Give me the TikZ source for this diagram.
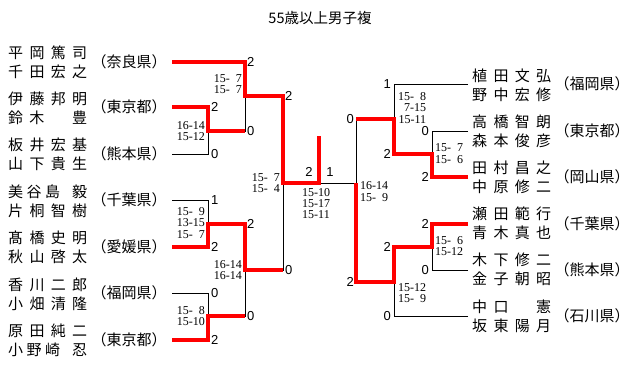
\documentclass[tikz,border=0pt]{standalone}
\usepackage{fontspec}
\usepackage{tikz}
\setmainfont{Liberation Serif}
\newfontfamily\jpfont{Noto Sans CJK JP}
\newfontfamily\scfont{Liberation Sans}
\usetikzlibrary{positioning}
\definecolor{winred}{RGB}{255,0,0}
\newcommand{\nmline}[1]{\makebox[79pt][s]{#1}}
\newcommand{\gp}{\hphantom{0}}

\begin{document}
\begin{tikzpicture}[x=1pt,y=-1pt,
  bline/.style={draw=black,line width=0.9pt},
  wline/.style={draw=winred,line width=3.3pt},
  pname/.style={font=\jpfont\fontsize{15}{19}\selectfont,align=left,inner sep=0pt,anchor=west},
  pref/.style={font=\jpfont\fontsize{15}{17}\selectfont,inner sep=0pt},
  pts/.style={font=\scfont\fontsize{13}{14}\selectfont,inner sep=0pt},
  gsc/.style={font=\fontsize{12}{11.3}\selectfont,align=right,inner sep=0pt}]
\useasboundingbox (0,0) rectangle (640,385);
\node[font=\jpfont\fontsize{14.5}{17}\selectfont] (title) at (320,18) {55歳以上男子複};

\coordinate (tL1) at (172,62);
\coordinate (tL2) at (172,107);
\coordinate (tL3) at (172,154);
\coordinate (tL4) at (172,200);
\coordinate (tL5) at (172,247);
\coordinate (tL6) at (172,293);
\coordinate (tL7) at (172,340);
\coordinate (tR1) at (468,84);
\coordinate (tR2) at (468,131);
\coordinate (tR3) at (468,177);
\coordinate (tR4) at (468,224);
\coordinate (tR5) at (468,270);
\coordinate (tR6) at (468,316);
\coordinate (jL23) at (208,131);
\coordinate (jL45) at (208,224);
\coordinate (jL67) at (208,316);
\coordinate (jLa) at (245,96);
\coordinate (jLb) at (245,270);
\coordinate (jLs) at (283,183);
\coordinate (fin) at (319,183);
\coordinate (champ) at (319,136);
\coordinate (jR23) at (432,154);
\coordinate (jR45) at (432,247);
\coordinate (jRa) at (394,119);
\coordinate (jRb) at (394,282);
\coordinate (jRs) at (356,183);

\node[pname] (nmL1) at (8,62) {\nmline{平\hfill 岡\hfill 篤\hfill 司}\\\nmline{千\hfill 田\hfill 宏\hfill 之}};
\node[pname] (nmL2) at (8,108) {\nmline{伊\hfill 藤\hfill 邦\hfill 明}\\\nmline{鈴\hspace{6.3pt}木\hfill 豊}};
\node[pname] (nmL3) at (8,154) {\nmline{板\hfill 井\hfill 宏\hfill 基}\\\nmline{山\hfill 下\hfill 貴\hfill 生}};
\node[pname] (nmL4) at (8,201) {\nmline{美\hspace{3.5pt}谷\hspace{3.5pt}島\hfill 毅}\\\nmline{片\hfill 桐\hfill 智\hfill 樹}};
\node[pname] (nmL5) at (8,247) {\nmline{髙\hfill 橋\hfill 史\hfill 明}\\\nmline{秋\hfill 山\hfill 啓\hfill 太}};
\node[pname] (nmL6) at (8,294) {\nmline{香\hfill 川\hfill 二\hfill 郎}\\\nmline{小\hfill 畑\hfill 清\hfill 隆}};
\node[pname] (nmL7) at (8,340) {\nmline{原\hfill 田\hfill 純\hfill 二}\\\nmline{小\hspace{3.5pt}野\hspace{3.5pt}崎\hfill 忍}};
\node[pname] (nmR1) at (472,85) {\nmline{植\hfill 田\hfill 文\hfill 弘}\\\nmline{野\hfill 中\hfill 宏\hfill 修}};
\node[pname] (nmR2) at (472,131) {\nmline{高\hfill 橋\hfill 智\hfill 朗}\\\nmline{森\hfill 本\hfill 俊\hfill 彦}};
\node[pname] (nmR3) at (472,177) {\nmline{田\hfill 村\hfill 昌\hfill 之}\\\nmline{中\hfill 原\hfill 修\hfill 二}};
\node[pname] (nmR4) at (472,223) {\nmline{瀬\hfill 田\hfill 範\hfill 行}\\\nmline{青\hfill 木\hfill 真\hfill 也}};
\node[pname] (nmR5) at (472,269) {\nmline{木\hfill 下\hfill 修\hfill 二}\\\nmline{金\hfill 子\hfill 朝\hfill 昭}};
\node[pname] (nmR6) at (472,316) {\nmline{中\hspace{6.3pt}口\hfill 憲}\\\nmline{坂\hfill 東\hfill 陽\hfill 月}};

\node[pref] (prL1) at (129,62) {（奈良県）};
\node[pref] (prL2) at (129,107) {（東京都）};
\node[pref] (prL3) at (129,154) {（熊本県）};
\node[pref] (prL4) at (129,200) {（千葉県）};
\node[pref] (prL5) at (129,247) {（愛媛県）};
\node[pref] (prL6) at (129,293) {（福岡県）};
\node[pref] (prL7) at (129,340) {（東京都）};
\node[pref] (prR1) at (592,84) {（福岡県）};
\node[pref] (prR2) at (592,131) {（東京都）};
\node[pref] (prR3) at (592,177) {（岡山県）};
\node[pref] (prR4) at (592,224) {（千葉県）};
\node[pref] (prR5) at (592,270) {（熊本県）};
\node[pref] (prR6) at (592,316) {（石川県）};

\draw[bline] (tL3) -| (jL23);
\draw[bline] (tL4) -| (jL45);
\draw[bline] (tL6) -| (jL67);
\draw[bline] (jL23) -| (jLa);
\draw[bline] (jL67) -| (jLb);
\draw[bline] (jLb) -| (jLs);
\draw[bline] (jLs) -- (jRs);
\draw[bline] (tR1) -| (jRa);
\draw[bline] (tR2) -| (jR23);
\draw[bline] (tR5) -| (jR45);
\draw[bline] (tR6) -| (jRb);
\draw[bline] (jRa) -| (jRs);

\draw[wline] (tL1) -| (jLa) -| (jLs) -- (fin) -- (champ);
\draw[wline] (tL2) -| (jL23) -- (jL23 -| jLa);
\draw[wline] (tL5) -| (jL45) -| (jLb) -- (jLb -| jLs);
\draw[wline] (tL7) -| (jL67) -- (jL67 -| jLa);
\draw[wline] (tR3) -| (jR23) -| (jRa) -- (jRa -| jRs);
\draw[wline] (tR4) -| (jR45) -| (jRb) -| (jRs);

\node[pts, anchor=west] (scL1) at (247,62) {2};
\node[pts, anchor=west] (scL2) at (211,107) {2};
\node[pts, anchor=west] (scL3) at (211,154) {0};
\node[pts, anchor=west] (scL23) at (247,131) {0};
\node[pts, anchor=west] (scLa) at (285,96) {2};
\node[pts, anchor=west] (scL4) at (211,200) {1};
\node[pts, anchor=west] (scL5) at (211,247) {2};
\node[pts, anchor=west] (scL45) at (247,224) {2};
\node[pts, anchor=west] (scL6) at (211,293) {0};
\node[pts, anchor=west] (scL7) at (211,340) {2};
\node[pts, anchor=west] (scL67) at (247,316) {0};
\node[pts, anchor=west] (scLb) at (285,270) {0};
\node[pts] (scFL) at (309,172) {2};
\node[pts] (scFR) at (330,172) {1};
\node[pts, anchor=east] (scR1) at (391,84) {1};
\node[pts, anchor=east] (scRa) at (354,119) {0};
\node[pts, anchor=east] (scR23) at (391,154) {2};
\node[pts, anchor=east] (scR2) at (429,131) {0};
\node[pts, anchor=east] (scR3) at (429,177) {2};
\node[pts, anchor=east] (scR4) at (429,224) {2};
\node[pts, anchor=east] (scR45) at (391,247) {2};
\node[pts, anchor=east] (scR5) at (429,270) {0};
\node[pts, anchor=east] (scRb) at (354,282) {2};
\node[pts, anchor=east] (scR6) at (391,316) {0};

\node[gsc, anchor=east] (gL23) at (205,131) {16-14\\15-12};
\node[gsc, anchor=east] (gLa) at (242,84) {15-\gp7\\15-\gp7};
\node[gsc, anchor=east] (gL45) at (205,223) {15-\gp9\\13-15\\15-\gp7};
\node[gsc, anchor=east] (gLb) at (242,270) {16-14\\16-14};
\node[gsc, anchor=east] (gL67) at (205,316) {15-\gp8\\15-10};
\node[gsc, anchor=east] (gLs) at (280,183) {15-\gp7\\15-\gp4};
\node[gsc, anchor=north, align=center] (gF) at (316,188) {15-10\\15-17\\15-11};
\node[gsc, anchor=west] (gRs) at (360,191.5) {16-14\\15-\gp9};
\node[gsc, anchor=west] (gRa) at (398,108) {15-\gp8\\\gp7-15\\15-11};
\node[gsc, anchor=west] (gR23) at (435,153.5) {15-\gp7\\15-\gp6};
\node[gsc, anchor=west] (gR45) at (435,246) {15-\gp6\\15-12};
\node[gsc, anchor=west] (gRb) at (398,293) {15-12\\15-\gp9};
\end{tikzpicture}
\end{document}
